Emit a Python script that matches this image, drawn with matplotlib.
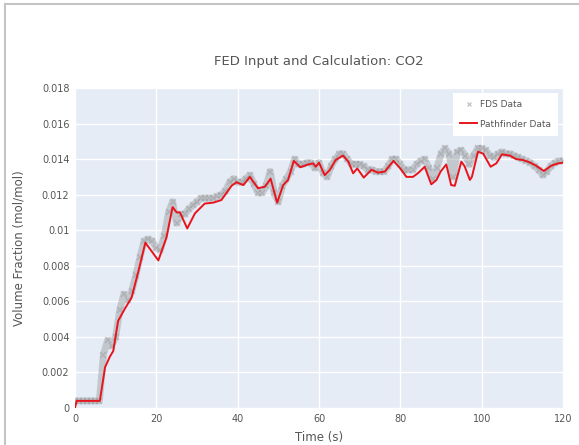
import numpy as np
import matplotlib
matplotlib.use("Agg")
import matplotlib.pyplot as plt
from matplotlib.lines import Line2D

# FDS data (sampled every second)
fds_time = list(range(0, 121))
fds_co2 = [
    0.0004, 0.0004, 0.0004, 0.0004, 0.0004, 0.0004, 0.0004, 0.0030, 0.0038, 0.0035,
    0.0040, 0.0055, 0.0064, 0.0061, 0.0066, 0.0075, 0.0085, 0.0094, 0.0095, 0.0094,
    0.0090, 0.0089, 0.0097, 0.0110, 0.0116, 0.0104, 0.0109, 0.0109, 0.0112, 0.0114,
    0.0116, 0.0118, 0.0118, 0.0118, 0.0118, 0.0119, 0.0120, 0.0122, 0.0127, 0.0129,
    0.0127, 0.0127, 0.0129, 0.0131, 0.0126, 0.0121, 0.0121, 0.0125, 0.0133, 0.0121,
    0.0116, 0.0125, 0.0129, 0.0133, 0.0140, 0.0137, 0.0137, 0.0138, 0.0138, 0.0135,
    0.0138, 0.0132, 0.0130, 0.0136, 0.0140, 0.0143, 0.0143, 0.0140, 0.0137, 0.0137,
    0.0137, 0.0136, 0.0134, 0.0134, 0.0133, 0.0133, 0.0133, 0.0136, 0.0140, 0.0140,
    0.0137, 0.0134, 0.0134, 0.0134, 0.0137, 0.0139, 0.0140, 0.0135, 0.0129, 0.0135,
    0.0143, 0.0146, 0.0143, 0.0130, 0.0144, 0.0145, 0.0142, 0.0137, 0.0142, 0.0146,
    0.0146, 0.0145, 0.0142, 0.0141, 0.0143, 0.0144, 0.0143, 0.0143, 0.0142, 0.0141,
    0.0140, 0.0139, 0.0138, 0.0136, 0.0134, 0.0131, 0.0133, 0.0136, 0.0138, 0.0139,
    0.0139,
]

# Pathfinder data
pf_time = [0, 0.4, 6.1, 7.4, 8.6, 9.4, 10.6, 12.3, 13.9, 15.6, 17.3, 20.5, 22.5, 24.0,
           25.0, 25.8, 27.6, 29.5, 31.9, 34.0, 36.0, 38.5, 39.7, 41.4, 43.0, 45.0, 46.7,
           48.1, 49.7, 51.2, 52.4, 53.8, 55.4, 57.3, 58.6, 59.2, 60.0, 61.4, 62.7, 64.1,
           65.9, 67.2, 68.4, 69.4, 71.0, 72.9, 74.5, 76.2, 78.3, 79.9, 81.5, 83.1, 84.3,
           86.0, 87.6, 88.9, 89.9, 91.3, 92.5, 93.4, 95.0, 95.8, 97.1, 97.6, 99.1, 100.4,
           102.2, 103.6, 105.0, 106.9, 108.5, 110.1, 111.8, 113.4, 115.3, 117.1, 118.8, 120]
pf_co2 = [0, 0.0004, 0.0004, 0.0023, 0.0029, 0.0032, 0.0049, 0.0056, 0.0062, 0.0077,
          0.0093, 0.0083, 0.0096, 0.0113, 0.0110, 0.0110, 0.0101, 0.01095, 0.0115, 0.01155,
          0.0117, 0.0125, 0.0127, 0.01254, 0.0130, 0.01236, 0.01245, 0.0129, 0.01155,
          0.01254, 0.01283, 0.0139, 0.01354, 0.0137, 0.01376, 0.01357, 0.0138, 0.0131,
          0.0134, 0.01395, 0.0142, 0.01386, 0.0132, 0.01348, 0.01296, 0.0134, 0.01324,
          0.0133, 0.0139, 0.0135, 0.0130, 0.0130, 0.0132, 0.01357, 0.01258, 0.01283,
          0.0133, 0.0137, 0.01254, 0.0125, 0.01386, 0.0136, 0.01283, 0.0130, 0.01442,
          0.0143, 0.01357, 0.01376, 0.01427, 0.0142, 0.0140, 0.01395, 0.01382, 0.01363,
          0.01333, 0.01363, 0.01376, 0.0138]

x_ticks = [0, 20, 40, 60, 80, 100, 120]
y_ticks = [0, 0.002, 0.004, 0.006, 0.008, 0.01, 0.012, 0.014, 0.016, 0.018]
y_labels = ["0", "0.002", "0.004", "0.006", "0.008", "0.01", "0.012", "0.014", "0.016", "0.018"]

fig = plt.figure(figsize=(5.79, 4.45), dpi=100)
ax = fig.add_axes([75/579, 1-408/445, (563-75)/579, (408-88)/445])
ax.set_facecolor("#e5ecf6")

# dense FDS markers blur into a thick gray band
ax.plot(fds_time, fds_co2, color="#939696", alpha=0.42, linewidth=5,
        solid_capstyle="round", solid_joinstyle="round", zorder=2)
ax.plot(fds_time, fds_co2, linestyle="none", marker="x", markersize=4,
        color="#808080", alpha=0.3, markeredgewidth=1.1, zorder=2)
ax.plot(pf_time, pf_co2, color="#e8141c", linewidth=1.4, zorder=3)

ax.set_xlim(0, 120)
ax.set_ylim(0, 0.018)
ax.set_xticks(x_ticks)
ax.set_yticks(y_ticks)
ax.set_yticklabels(y_labels)
ax.grid(True, color="white", linewidth=1)
ax.set_axisbelow(True)
for s in ax.spines.values():
    s.set_visible(False)
ax.tick_params(length=0, labelsize=7, labelcolor="#555555", pad=4)

ax.set_xlabel("Time (s)", fontsize=8.5, color="#555555", labelpad=5)
ax.set_ylabel("Volume Fraction (mol/mol)", fontsize=8.5, color="#555555", labelpad=12)
fig.text(319/579, 1-62/445, "FED Input and Calculation: CO2", ha="center", va="center",
         fontsize=9.5, color="#555555")

handles = [
    Line2D([], [], linestyle="none", marker="x", markersize=3.5, color="#c8c8c8",
           markeredgewidth=1),
    Line2D([], [], color="#e8141c", linewidth=1.4),
]
leg = ax.legend(handles, ["FDS Data", "Pathfinder Data"], loc="upper right",
                bbox_to_anchor=(1.0, 1.0), fontsize=6.5,
                frameon=True, fancybox=False, framealpha=1, edgecolor="white",
                handlelength=1.8, handletextpad=0.4, borderpad=0.8, labelspacing=1.2)
leg.get_frame().set_linewidth(0)
for t in leg.get_texts():
    t.set_color("#555555")

# screenshot border
fig.add_artist(Line2D([5/579, 5/579], [0, 1-4/445], color="#c4c4c4", linewidth=1.5))
fig.add_artist(Line2D([5/579, 1], [1-4/445, 1-4/445], color="#c4c4c4", linewidth=1.5))

fig.savefig("out.png", dpi=100)
